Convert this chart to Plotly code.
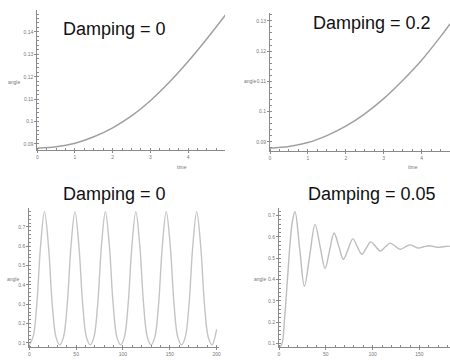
import plotly.graph_objects as go

# ---- data ----
t1 = [0, 0.5, 1, 1.5, 2, 2.5, 3, 3.5, 4, 4.5, 5]
a1 = [0.0881, 0.0887, 0.0903, 0.0932, 0.0972, 0.1025, 0.1093, 0.1175, 0.1268, 0.1370, 0.1478]

t2 = [0, 0.5, 1, 1.5, 2, 2.5, 3, 3.5, 4, 4.5, 4.75]
a2 = [0.0880, 0.0885, 0.0898, 0.0921, 0.0952, 0.0993, 0.1043, 0.1103, 0.1170, 0.1248, 0.1290]

t3 = [0, 4, 8, 12, 16.2, 20.5, 24.5, 28.5, 32.5, 36.5, 40.5, 44.5, 48.7, 53, 57, 61,
      65, 69, 73, 77, 81.2, 85.5, 89.5, 93.5, 97.5, 101.5, 105.5, 109.5, 113.7, 118,
      122, 126, 130, 134, 138, 142, 146.2, 150.5, 154.5, 158.5, 162.5, 166.5, 170.5,
      174.5, 178.7, 183, 187, 191, 195, 200]
a3 = [0.09, 0.13, 0.30, 0.60, 0.779, 0.60, 0.30, 0.13, 0.09, 0.13, 0.30, 0.60, 0.779, 0.60, 0.30, 0.13,
      0.09, 0.13, 0.30, 0.60, 0.779, 0.60, 0.30, 0.13, 0.09, 0.13, 0.30, 0.60, 0.779, 0.60,
      0.30, 0.13, 0.09, 0.13, 0.30, 0.60, 0.779, 0.60, 0.30, 0.13, 0.09, 0.13, 0.30,
      0.60, 0.779, 0.60, 0.30, 0.13, 0.09, 0.17]

t4 = [0, 3, 6, 9, 12, 14.5, 17.1, 22.1, 27.1, 32.8, 38.5, 43.9, 49.2, 54.0, 58.8, 63.8,
      68.8, 73.8, 78.8, 83.6, 88.4, 93.2, 98.0, 103, 108, 113.4, 118.7, 124, 129.4,
      134.8, 140.1, 144.4, 148.7, 154.6, 160.5, 165.3, 170, 175.3, 180.5, 182.6]
a4 = [0.080, 0.095, 0.22, 0.40, 0.58, 0.68, 0.719, 0.545, 0.368, 0.513, 0.658, 0.555, 0.452, 0.536, 0.619, 0.557,
      0.495, 0.543, 0.591, 0.555, 0.519, 0.548, 0.577, 0.556, 0.534, 0.553, 0.571, 0.557, 0.542,
      0.553, 0.563, 0.556, 0.548, 0.554, 0.559, 0.555, 0.551, 0.554, 0.557, 0.556]

titles = ["Damping = 0", "Damping = 0.2", "Damping = 0", "Damping = 0.05"]

y1_ticks = [0.09, 0.10, 0.11, 0.12, 0.13, 0.14]
y1_text = ["0.09", "0.1", "0.11", "0.12", "0.13", "0.14"]
y2_ticks = [0.09, 0.10, 0.11, 0.12, 0.13]
y2_text = ["0.09", "0.1", "0.11", "0.12", "0.13"]
x_top_ticks = [0, 1, 2, 3, 4]
x_top_text = ["0", "1", "2", "3", "4"]
y_bot_ticks = [0.1, 0.2, 0.3, 0.4, 0.5, 0.6, 0.7]
y_bot_text = ["0.1", "0.2", "0.3", "0.4", "0.5", "0.6", "0.7"]
x3_ticks = [0, 50, 100, 150, 200]
x3_text = ["0", "50", "100", "150", "200"]
x4_ticks = [0, 50, 100, 150]
x4_text = ["0", "50", "100", "150"]

W, H = 450, 360
AX = "#8a8a8a"
TXT = "#777777"
FONT = "Liberation Sans, Arial, sans-serif"

fig = go.Figure()
fig.add_trace(go.Scatter(x=t1, y=a1, mode="lines", line=dict(color="#a0a0a0", width=1.5, shape="spline"), xaxis="x", yaxis="y"))
fig.add_trace(go.Scatter(x=t2, y=a2, mode="lines", line=dict(color="#a0a0a0", width=1.5, shape="spline"), xaxis="x2", yaxis="y2"))
fig.add_trace(go.Scatter(x=t3, y=a3, mode="lines", line=dict(color="#c4c4c4", width=1.4, shape="spline"), xaxis="x3", yaxis="y3"))
fig.add_trace(go.Scatter(x=t4, y=a4, mode="lines", line=dict(color="#bdbdbd", width=1.4, shape="spline"), xaxis="x4", yaxis="y4"))


def ax(domain, rng, tv, tt, anchor, minor_dt):
    return dict(domain=domain, range=rng, tickvals=tv, ticktext=tt, anchor=anchor,
                automargin=False,
                showgrid=False, zeroline=False, showline=True, linecolor=AX, linewidth=1,
                ticks="outside", ticklen=2, tickcolor=AX, tickwidth=1,
                tickfont=dict(size=5, color=TXT, family=FONT),
                minor=dict(dtick=minor_dt, ticks="inside", ticklen=2, tickcolor=AX, showgrid=False))


def px_x(p):
    return p / W


def px_y(p):
    return 1 - p / H


fig.update_layout(
    width=W, height=H, margin=dict(l=0, r=0, t=0, b=0, pad=0, autoexpand=False),
    paper_bgcolor="white", plot_bgcolor="white", showlegend=False,
    xaxis=ax([px_x(37.3), px_x(225)], [0, 4.98], x_top_ticks, x_top_text, "y", 0.25),
    yaxis=ax([px_y(150), px_y(10)], [0.0873, 0.1498], y1_ticks, y1_text, "x", 0.002),
    xaxis2=ax([px_x(270), 1.0], [0, 4.75], x_top_ticks, x_top_text, "y2", 0.25),
    yaxis2=ax([px_y(150.7), px_y(13)], [0.0871, 0.1326], y2_ticks, y2_text, "x2", 0.002),
    xaxis3=ax([px_x(29.3), px_x(219)], [0, 202.5], x3_ticks, x3_text, "y3", 10),
    yaxis3=ax([px_y(347), px_y(208)], [0.079, 0.798], y_bot_ticks, y_bot_text, "x3", 0.02),
    xaxis4=ax([px_x(279), 1.0], [0, 182.6], x4_ticks, x4_text, "y4", 10),
    yaxis4=ax([px_y(347.3), px_y(208.3)], [0.081, 0.735], y_bot_ticks, y_bot_text, "x4", 0.02),
)

title_pos = [(114, 29), (371.7, 22.5), (114, 194), (371.7, 194)]
for txt, (x, y) in zip(titles, title_pos):
    fig.add_annotation(text=txt, x=px_x(x), y=px_y(y), xref="paper", yref="paper",
                       showarrow=False, xanchor="center", yanchor="middle",
                       font=dict(size=18, color="#111111", family=FONT))

small = [("angle", 14, 81.7), ("angle", 250, 81), ("angle", 13, 279.3), ("angle", 260, 279.3),
         ("time", 181.7, 167), ("time", 413, 167)]
for txt, x, y in small:
    fig.add_annotation(text=txt, x=px_x(x), y=px_y(y), xref="paper", yref="paper",
                       showarrow=False, xanchor="center", yanchor="middle",
                       font=dict(size=5, color=TXT, family=FONT))

fig.write_html("out.html",
               config={"displayModeBar": False},
               post_script="document.body.style.margin='0px';document.body.style.overflow='hidden';")
